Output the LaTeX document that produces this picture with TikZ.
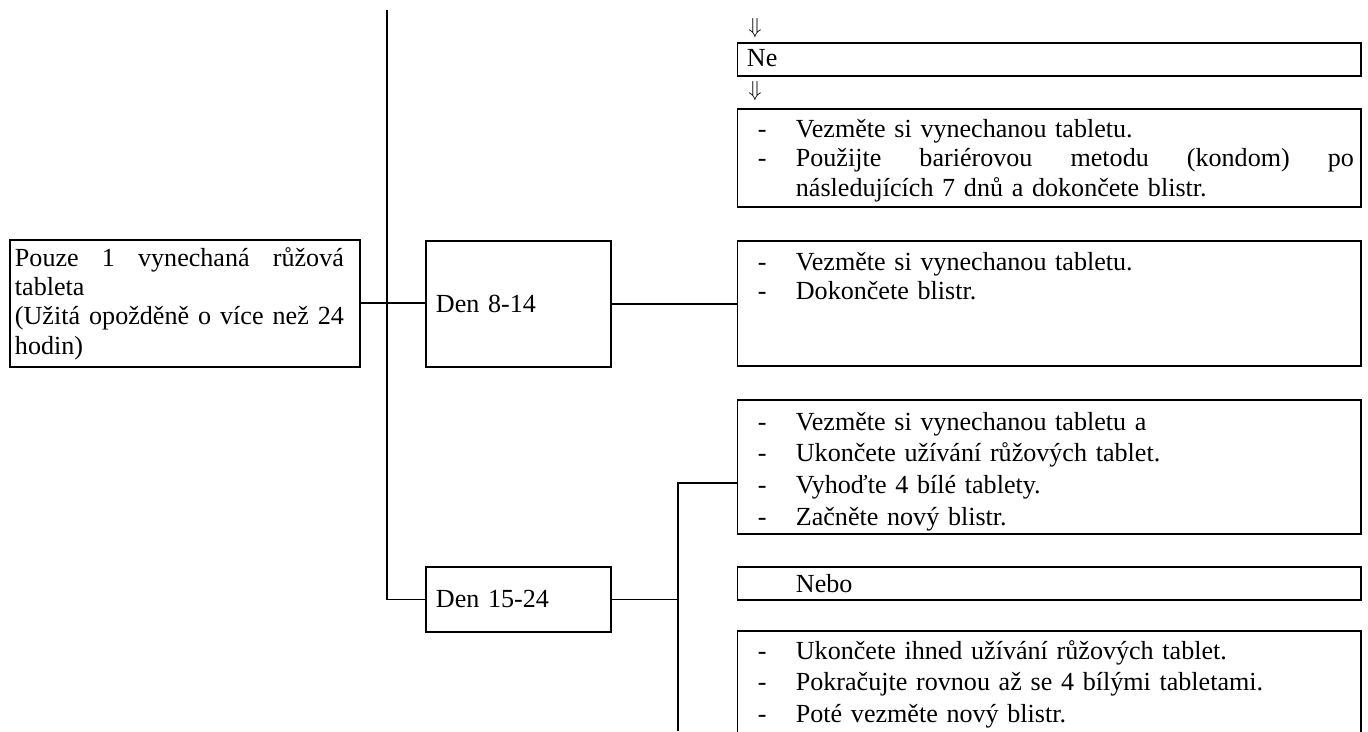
\documentclass[tikz,border=0pt]{standalone}
\usepackage{fontspec}
\setmainfont{Liberation Serif}
\usetikzlibrary{positioning}

\newcommand{\dashm}{\makebox[22.5pt][l]{\hspace{5pt}-}}
\newcommand{\jline}[2]{\leavevmode\hbox to #1{#2}}

\begin{document}
\begin{tikzpicture}[x=0.46pt, y=-0.46pt, line width=0.9pt,
  box/.style={draw, rectangle, anchor=north west, inner sep=0pt},
  rbox/.style={box, minimum width=286.8pt},
  txt/.style={anchor=base west, inner sep=0pt, align=left, font=\fontsize{12}{13.6}\selectfont},
  widetxt/.style={txt, font=\fontsize{12}{14.7}\selectfont},
  day/.style={box, minimum width=85.1pt, text width=75.9pt, inner xsep=4.6pt, align=left, font=\fontsize{12}{13.8}\selectfont}]
  \clip (0,0) rectangle (1368,731);

  % left part
  \node[box, minimum width=161pt, minimum height=58.4pt] (only1) at (9,239) {};
  \node[txt, text width=151.3pt, font=\fontsize{12}{13.5}\selectfont] (only1txt) at (14,266)
    {\jline{151.3pt}{Pouze \hfill 1 \hfill vynechaná \hfill růžová}\\tableta\\
     \jline{151.3pt}{(Užitá \hfill opožděně \hfill o \hfill více \hfill než \hfill 24}\\hodin)};
  \node[day, minimum height=58pt] (day8) at (425,240) {Den 8-14};
  \node[day, minimum height=29.9pt] (day15) at (425,566) {Den 15-24};

  % right column
  \node[inner sep=0pt] (arrA) at (755,28.5) {$\Downarrow$};
  \node[rbox, minimum height=15.2pt] (ne) at (736.5,42) {};
  \node[txt] (netxt) at (746,66.7) {Ne};
  \node[inner sep=0pt] (arrB) at (755,91.5) {$\Downarrow$};
  \node[rbox, minimum height=45.1pt] (b3) at (736.5,108) {};
  \node[txt, text width=279.2pt] (b3txt) at (746,137)
    {\dashm Vezměte si vynechanou tabletu.\\
     \jline{279.2pt}{\dashm Použijte \hfill bariérovou \hfill metodu \hfill (kondom) \hfill po}\\
     \hspace*{22.5pt}následujících 7 dnů a dokončete blistr.};
  \node[rbox, minimum height=57.5pt] (b4) at (736.5,240) {};
  \node[txt, text width=279.2pt] (b4txt) at (746,270)
    {\dashm Vezměte si vynechanou tabletu.\\
     \dashm Dokončete blistr.};
  \node[rbox, minimum height=61.6pt] (b5) at (736.5,399) {};
  \node[widetxt, text width=279.2pt] (b5txt) at (746,430)
    {\dashm Vezměte si vynechanou tabletu a\\
     \dashm Ukončete užívání růžových tablet.\\
     \dashm Vyhoďte 4 bílé tablety.\\
     \dashm Začněte nový blistr.};
  \node[rbox, minimum height=15.2pt] (nebo) at (736.5,566) {};
  \node[txt] (nebotxt) at (795,592) {Nebo};
  \node[rbox, minimum height=69pt] (b7) at (736.5,630) {};
  \node[widetxt, text width=279.2pt] (b7txt) at (746,659)
    {\dashm Ukončete ihned užívání růžových tablet.\\
     \dashm Pokračujte rovnou až se 4 bílými tabletami.\\
     \dashm Poté vezměte nový blistr.};

  % connectors
  \coordinate (top) at (386.7,10);
  \coordinate (bot) at (677.7,731);
  \draw (top) |- (day15.west);
  \draw (only1.east) -- (only1.east -| day8.west);
  \draw (day8.east) -- (day8.east -| b4.west);
  \draw (day15.east) -- (day15.east -| bot);
  \draw ([yshift=-7.4pt]b5.west) -| (bot);
\end{tikzpicture}
\end{document}
